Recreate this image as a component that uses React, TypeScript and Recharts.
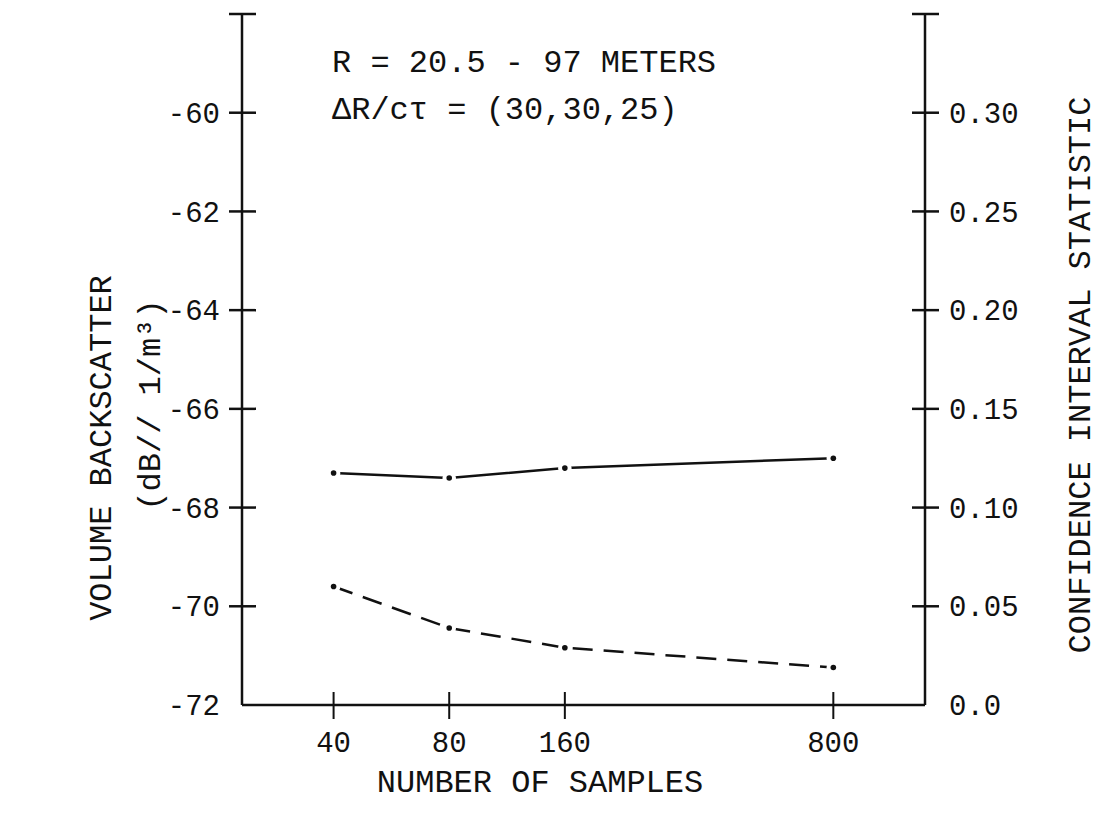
import React from 'react';
import { LineChart, Line, XAxis, YAxis } from 'recharts';

// number of samples (log spaced on the x axis)
const SAMPLES = [40, 80, 160, 800];
// volume backscatter, dB // 1/m^3 (solid line, left axis)
const BACKSCATTER = [-67.3, -67.4, -67.2, -67.0];
// confidence interval statistic (dashed line, right axis)
const CONFIDENCE = [0.06, 0.039, 0.029, 0.019];

const X_TICKS = [40, 80, 160, 800];
const LEFT_TICKS = [-72, -70, -68, -66, -64, -62, -60, -58];
const RIGHT_TICKS = [0, 0.05, 0.1, 0.15, 0.2, 0.25, 0.3, 0.35];

const FONT = '"Liberation Mono", "DejaVu Sans Mono", monospace';
const INK = '#111';

const data = SAMPLES.map((n, i) => ({ n, db: BACKSCATTER[i], ci: CONFIDENCE[i] }));

function XTick({ x, y, payload }: any) {
  return (
    <g>
      <line x1={x} x2={x} y1={y - 13} y2={y + 14} stroke={INK} strokeWidth={2} />
      <text x={x} y={y + 47} textAnchor="middle" fontFamily={FONT} fontSize={29} fill={INK}>
        {payload.value}
      </text>
    </g>
  );
}

function LeftTick({ x, y, payload }: any) {
  const v = payload.value;
  return (
    <g>
      {v !== -72 && <line x1={x - 13} x2={x + 14} y1={y} y2={y} stroke={INK} strokeWidth={2.5} />}
      {v !== -58 && (
        <text x={x - 22} y={y} dy="0.35em" textAnchor="end" fontFamily={FONT} fontSize={29} fill={INK}>
          {v}
        </text>
      )}
    </g>
  );
}

function RightTick({ x, y, payload }: any) {
  const v = payload.value;
  return (
    <g>
      {v !== 0 && <line x1={x - 13} x2={x + 14} y1={y} y2={y} stroke={INK} strokeWidth={2.5} />}
      {v !== 0.35 && (
        <text x={x + 24} y={y} dy="0.35em" textAnchor="start" fontFamily={FONT} fontSize={29} fill={INK}>
          {v === 0 ? '0.0' : v.toFixed(2)}
        </text>
      )}
    </g>
  );
}

function Dot({ cx, cy }: any) {
  if (cx == null || cy == null) return null;
  return <circle cx={cx} cy={cy} r={2.8} fill={INK} stroke="#fff" strokeWidth={8} paintOrder="stroke" />;
}

export default function App() {
  return (
    <div style={{ position: 'absolute', left: 0, top: 0, width: 1102, height: 818, background: '#fff' }}>
      <LineChart width={1102} height={818} data={data} margin={{ top: 14, right: 0, bottom: 0, left: 0 }}>
        <XAxis
          dataKey="n"
          type="number"
          scale="log"
          domain={[23.1, 1386]}
          ticks={X_TICKS}
          allowDataOverflow
          height={113}
          axisLine={{ stroke: INK, strokeWidth: 2.5 }}
          tickLine={false}
          tickSize={0}
          tickMargin={0}
          tick={<XTick />}
          interval={0}
        />
        <YAxis
          yAxisId="l"
          domain={[-72, -58]}
          ticks={LEFT_TICKS}
          width={242}
          allowDataOverflow
          axisLine={{ stroke: INK, strokeWidth: 2.5 }}
          tickLine={false}
          tickSize={0}
          tickMargin={0}
          tick={<LeftTick />}
          interval={0}
        />
        <YAxis
          yAxisId="r"
          orientation="right"
          domain={[0, 0.35]}
          ticks={RIGHT_TICKS}
          width={177}
          allowDataOverflow
          axisLine={{ stroke: INK, strokeWidth: 2.5 }}
          tickLine={false}
          tickSize={0}
          tickMargin={0}
          tick={<RightTick />}
          interval={0}
        />
        <Line
          yAxisId="l"
          dataKey="db"
          type="linear"
          stroke={INK}
          strokeWidth={2.5}
          dot={<Dot />}
          activeDot={false}
          isAnimationActive={false}
        />
        <Line
          yAxisId="r"
          dataKey="ci"
          type="linear"
          stroke={INK}
          strokeWidth={2.5}
          strokeDasharray="20 11"
          dot={<Dot />}
          activeDot={false}
          isAnimationActive={false}
        />
      </LineChart>
      <svg width={1102} height={818} style={{ position: 'absolute', left: 0, top: 0, pointerEvents: 'none' }}>
        <g fontFamily={FONT} fill={INK} fontSize={32}>
          <text x={332} y={72}>R = 20.5 - 97 METERS</text>
          <text x={332} y={119}>ΔR/cτ = (30,30,25)</text>
          <text x={540} y={792} textAnchor="middle">NUMBER OF SAMPLES</text>
          <text transform="translate(100,448) rotate(-90)" textAnchor="middle" dy="0.35em">VOLUME BACKSCATTER</text>
          <text transform="translate(149,405) rotate(-90)" textAnchor="middle" dy="0.35em">(dB// 1/m³)</text>
          <text transform="translate(1079,375) rotate(-90)" textAnchor="middle" dy="0.35em">CONFIDENCE INTERVAL STATISTIC</text>
        </g>
      </svg>
    </div>
  );
}
